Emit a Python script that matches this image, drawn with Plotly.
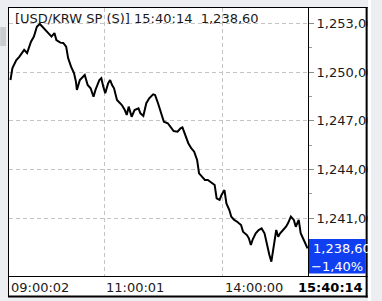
import plotly.graph_objects as go

# ---------------- data ----------------
tick_idx = [1, 3, 7, 10, 15, 18, 22, 25, 28, 31,
            33, 37, 40, 43, 46, 48, 52, 55, 58, 60,
            63, 66, 68, 69, 72, 75, 77, 80, 83, 86,
            88, 92, 94, 96, 98, 101, 103, 105, 107, 110,
            113, 115, 118, 120, 122, 125, 128, 132, 134, 137,
            140, 143, 147, 149, 152, 155, 158, 162, 165, 168,
            172, 175, 177, 180, 183, 186, 189, 192, 194, 197,
            200, 203, 207, 210, 212, 215, 217, 220, 222, 225,
            227, 230, 233, 237, 239, 243, 245, 247, 249, 252,
            255, 258, 261, 263, 266, 268, 270, 273, 275, 277,
            280, 283, 285, 288, 291, 293, 296, 298, 302, 305]
price = [1249.51, 1250.25, 1250.74, 1250.93, 1251.36, 1251.17, 1251.87, 1252.18, 1252.79, 1252.96,
         1252.83, 1252.59, 1252.40, 1252.18, 1252.40, 1251.97, 1251.81, 1251.79, 1251.56, 1250.86,
         1250.33, 1249.94, 1249.41, 1248.90, 1249.51, 1249.71, 1249.82, 1249.20, 1249.00, 1248.48,
         1248.90, 1249.51, 1249.62, 1249.10, 1248.69, 1249.31, 1249.51, 1249.20, 1249.00, 1248.28,
         1248.08, 1247.97, 1247.66, 1247.36, 1247.87, 1247.25, 1247.66, 1247.77, 1247.46, 1247.30,
         1248.08, 1248.38, 1248.63, 1248.59, 1248.08, 1247.46, 1246.94, 1246.85, 1246.64, 1246.37,
         1246.33, 1246.54, 1246.60, 1246.13, 1245.62, 1245.31, 1245.10, 1244.59, 1243.77, 1243.56,
         1243.36, 1243.36, 1243.15, 1243.05, 1242.23, 1242.13, 1242.43, 1242.74, 1241.92, 1241.51,
         1241.10, 1240.90, 1240.79, 1240.59, 1240.18, 1239.97, 1239.77, 1239.36, 1239.71, 1240.08,
         1240.28, 1240.38, 1240.08, 1239.46, 1238.74, 1238.33, 1239.25, 1240.28, 1239.87, 1240.08,
         1240.28, 1240.48, 1240.69, 1241.10, 1240.90, 1240.48, 1240.90, 1240.08, 1239.56, 1239.15]

x_tick_pos = [0, 97, 218]
x_tick_labels = ["09:00:02", "11:00:01", "14:00:00"]
last_time = "15:40:14"

y_tick_vals = [1241, 1244, 1247, 1250, 1253]
y_tick_text = ["1,241,00", "1,244,00", "1,247,00", "1,250,00", "1,253,00"]

title_text = "[USD/KRW SP (S)] 15:40:14  1,238,60"
last_price_text = "1,238,60"
change_text = "−1,40%"

# ---------------- layout geometry (pixels) ----------------
W, H = 382, 301
L, R, T, B = 9, 315, 8, 276
PW, PH = R - L, B - T


def px(x):
    return (x - L) / PW


def py(y):
    return (B - y) / PH


FONT = "DejaVu Sans"
BG = "#eceef1"

fig = go.Figure()
fig.add_trace(go.Scatter(x=tick_idx, y=price, mode="lines",
                         line=dict(color="#000000", width=2),
                         hoverinfo="skip", showlegend=False))

shapes = []
# outer white frame
shapes.append(dict(type="rect", xref="paper", yref="paper",
                   x0=px(8), x1=px(375.5), y0=py(7.5), y1=py(296.5),
                   fillcolor="#ffffff", line=dict(width=0), layer="below"))
# left scroll block decoration
shapes.append(dict(type="rect", xref="paper", yref="paper",
                   x0=px(0), x1=px(6), y0=py(27), y1=py(46),
                   fillcolor="#c9cbce", line=dict(width=0), layer="below"))
# blue price box
shapes.append(dict(type="rect", xref="paper", yref="paper",
                   x0=px(315.5), x1=px(374), y0=py(239), y1=py(273.5),
                   fillcolor="#0f3ff0", line=dict(width=0), layer="above"))
# clip area right of the frame
shapes.append(dict(type="rect", xref="paper", yref="paper",
                   x0=px(376), x1=px(383), y0=py(-2), y1=py(303),
                   fillcolor=BG, line=dict(width=0), layer="above"))
shapes.append(dict(type="rect", xref="paper", yref="paper",
                   x0=px(376.5), x1=px(379.5), y0=py(0), y1=py(301),
                   fillcolor="#ffffff", line=dict(width=0), layer="above"))
# frame border lines
blk = dict(color="#000000", width=1)
shapes.append(dict(type="line", xref="paper", yref="paper",
                   x0=px(8), x1=px(376), y0=py(7.5), y1=py(7.5), line=blk, layer="above"))
shapes.append(dict(type="line", xref="paper", yref="paper",
                   x0=px(8.5), x1=px(8.5), y0=py(7.5), y1=py(297), line=blk, layer="above"))
shapes.append(dict(type="line", xref="paper", yref="paper",
                   x0=px(375), x1=px(375), y0=py(7), y1=py(297.5),
                   line=dict(color="#000000", width=2), layer="above"))
shapes.append(dict(type="line", xref="paper", yref="paper",
                   x0=px(8), x1=px(376), y0=py(296.5), y1=py(296.5),
                   line=dict(color="#000000", width=2), layer="above"))
# x axis separator line
shapes.append(dict(type="line", xref="paper", yref="paper",
                   x0=px(8), x1=px(376), y0=py(276.5), y1=py(276.5), line=blk, layer="above"))
# vertical price-axis line
shapes.append(dict(type="line", xref="paper", yref="paper",
                   x0=px(315.5), x1=px(315.5), y0=py(7.5), y1=py(276.5), line=blk, layer="above"))

annotations = []
annotations.append(dict(text=title_text, xref="paper", yref="paper",
                        x=px(13), y=py(19), xanchor="left", yanchor="middle",
                        showarrow=False, font=dict(family=FONT, size=13, color="#1a1a1a")))
for pos, lab in zip(x_tick_pos, x_tick_labels):
    annotations.append(dict(text=lab, xref="x", yref="paper", x=pos, y=py(287),
                            xanchor="left", yanchor="middle", showarrow=False,
                            font=dict(family=FONT, size=13, color="#1a1a1a")))
annotations.append(dict(text="<b>" + last_time + "</b>", xref="paper", yref="paper",
                        x=px(373), y=py(287), xanchor="right", yanchor="middle",
                        showarrow=False, font=dict(family=FONT, size=13, color="#000000")))
annotations.append(dict(text=last_price_text, xref="paper", yref="paper",
                        x=px(318), y=py(248), xanchor="left", yanchor="middle",
                        showarrow=False, font=dict(family=FONT, size=13, color="#ffffff")))
annotations.append(dict(text=change_text, xref="paper", yref="paper",
                        x=px(345), y=py(266), xanchor="center", yanchor="middle",
                        showarrow=False, font=dict(family=FONT, size=13, color="#ffffff")))

fig.update_layout(
    width=W, height=H, autosize=False,
    margin=dict(l=L, r=W - R, t=T, b=H - B, pad=0),
    paper_bgcolor=BG, plot_bgcolor="#ffffff",
    showlegend=False,
    shapes=shapes, annotations=annotations,
    xaxis=dict(range=[-0.5, 305.5], showticklabels=False, ticks="",
               tickvals=x_tick_pos, showgrid=True, gridcolor="#c4c4c4",
               griddash="4px,3px", gridwidth=1, zeroline=False, showline=False,
               fixedrange=True),
    yaxis=dict(range=[1237.45, 1253.94], side="right", tickvals=y_tick_vals,
               ticktext=y_tick_text, ticks="outside", ticklen=5, tickcolor="#8c8c8c",
               tickwidth=1, showgrid=True, gridcolor="#c4c4c4", griddash="4px,3px",
               gridwidth=1, zeroline=False, showline=False,
               tickfont=dict(family=FONT, size=13, color="#1a1a1a"),
               minor=dict(tick0=1241, dtick=1.5, ticks="outside", ticklen=3,
                          tickcolor="#9a9a9a", showgrid=False),
               fixedrange=True),
)

fig.write_html("out.html", config={"displayModeBar": False})
